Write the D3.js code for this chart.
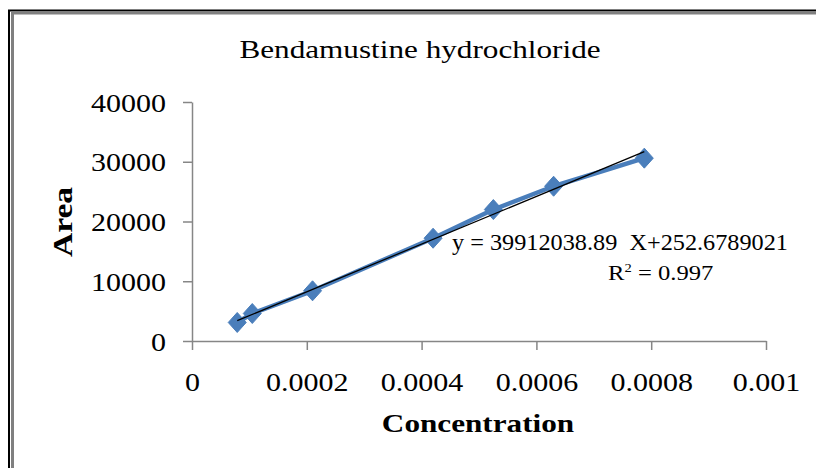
<!DOCTYPE html>
<html>
<head>
<meta charset="utf-8">
<script src="https://cdn.jsdelivr.net/npm/d3@7"></script>
<style>
  body { margin: 0; background: #fff; }
  svg text { font-family: "Liberation Serif", "Times New Roman", serif; fill: #000; }
</style>
</head>
<body>
<svg id="chart" width="816" height="468"></svg>
<script>
// data
var concentration = [0.0000788, 0.000105, 0.00021, 0.00042, 0.000525, 0.00063, 0.000788];
var area = [3100, 4600, 8400, 17200, 22000, 25900, 30600];
var xTicks = [0, 0.0002, 0.0004, 0.0006, 0.0008, 0.001];
var xTickLabels = ['0', '0.0002', '0.0004', '0.0006', '0.0008', '0.001'];
var yTicks = [0, 10000, 20000, 30000, 40000];
var slope = 39912038.89, intercept = 252.6789021;

var plot = {left: 192, right: 766, top: 102, bottom: 341};
var stretch = 1.2; // the text in the picture is wider than normal

var svg = d3.select('#chart');

// frame (black + grey double line, open at right/bottom)
svg.append('path').attr('d', 'M9,468V10.5H816').attr('fill', 'none').attr('stroke', '#000').attr('stroke-width', 2);
svg.append('path').attr('d', 'M12.5,468V13H816').attr('fill', 'none').attr('stroke', '#808080').attr('stroke-width', 3);

var x = d3.scaleLinear().domain([0, 0.001]).range([plot.left, plot.right]);
var y = d3.scaleLinear().domain([0, 40000]).range([plot.bottom, plot.top]);

function wideText(sel, k) {
  k = k || stretch;
  sel.each(function() {
    var t = d3.select(this);
    var tx = +t.attr('x') || 0, ty = +t.attr('y') || 0;
    t.attr('x', null).attr('y', null)
      .attr('transform', 'translate(' + tx + ',' + ty + ') scale(' + k + ',1)');
  });
}

var xAxis = svg.append('g').attr('transform', 'translate(0,' + plot.bottom + ')')
  .call(d3.axisBottom(x).tickValues(xTicks).tickSize(9).tickSizeOuter(0)
    .tickFormat(function(d, i) { return xTickLabels[i]; }));
var yAxis = svg.append('g').attr('transform', 'translate(' + plot.left + ',0)')
  .call(d3.axisLeft(y).tickValues(yTicks).tickSize(9).tickSizeOuter(0).tickFormat(d3.format('d')));

[xAxis, yAxis].forEach(function(a) {
  a.select('.domain').attr('stroke', '#868686').attr('stroke-width', 1.5);
  a.selectAll('.tick line').attr('stroke', '#868686').attr('stroke-width', 1.5);
  a.selectAll('.tick text').style('font-family', '"Liberation Serif", serif').style('font-size', '25px').attr('fill', '#000');
});
xAxis.selectAll('.tick text').attr('dy', null).each(function() {
  d3.select(this).attr('y', null).attr('transform', 'translate(0,50) scale(' + stretch + ',1)');
});
yAxis.selectAll('.tick text').attr('dy', null).each(function() {
  d3.select(this).attr('x', null).attr('transform', 'translate(-26,9) scale(' + stretch + ',1)');
});

// series line + diamond markers
var pts = concentration.map(function(c, i) { return [c, area[i]]; });
svg.append('path').datum(pts)
  .attr('fill', 'none').attr('stroke', '#4a7ebb').attr('stroke-width', 4.5)
  .attr('stroke-linejoin', 'round')
  .attr('d', d3.line().x(function(d) { return x(d[0]); }).y(function(d) { return y(d[1]); }));

svg.selectAll('path.mk').data(pts).enter().append('path').attr('class', 'mk')
  .attr('transform', function(d) { return 'translate(' + x(d[0]) + ',' + y(d[1]) + ')'; })
  .attr('d', 'M0,-10L9,0L0,10L-9,0Z')
  .attr('fill', '#4a7ebb').attr('stroke', '#4a7ebb').attr('stroke-width', 1);

// linear trendline
var x0 = d3.min(concentration), x1 = d3.max(concentration);
svg.append('line')
  .attr('x1', x(x0)).attr('y1', y(slope * x0 + intercept))
  .attr('x2', x(x1)).attr('y2', y(slope * x1 + intercept))
  .attr('stroke', '#000').attr('stroke-width', 1.3);

// texts
svg.append('text').attr('x', 420).attr('y', 58).attr('text-anchor', 'middle')
  .style('font-size', '26px').text('Bendamustine hydrochloride').call(wideText);

svg.append('text').attr('x', 452).attr('y', 250)
  .style('font-size', '23px').attr('xml:space', 'preserve')
  .attr('textLength', 336).attr('lengthAdjust', 'spacingAndGlyphs')
  .text('y = 39912038.89  X+252.6789021');
var r2 = svg.append('text').attr('x', 608).attr('y', 280).style('font-size', '22px');
r2.append('tspan').text('R');
r2.append('tspan').attr('dy', -8).style('font-size', '13px').text('2');
r2.append('tspan').attr('dy', 8).text(' = 0.997');
wideText(r2, 1.12);

svg.append('text').attr('x', 478).attr('y', 432).attr('text-anchor', 'middle')
  .style('font-size', '26px').style('font-weight', 'bold').text('Concentration').call(wideText);

svg.append('text').attr('transform', 'translate(72,222) rotate(-90) scale(1.2,1)')
  .attr('text-anchor', 'middle').style('font-size', '28px').style('font-weight', 'bold').text('Area');
</script>
</body>
</html>
